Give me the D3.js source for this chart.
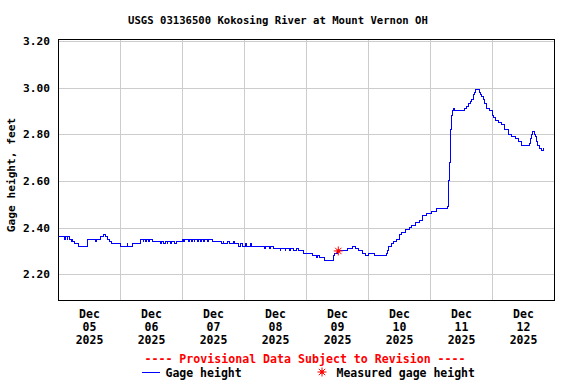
<!DOCTYPE html>
<html>
<head>
<meta charset="utf-8">
<script src="https://cdn.jsdelivr.net/npm/d3@7"></script>
<style>
  body { margin: 0; background: #fff; }
  svg { display: block; font-family: "DejaVu Sans Mono", monospace; font-weight: bold; }
</style>
</head>
<body>
<script>
// 图表数据
const title = 'USGS 03136500 Kokosing River at Mount Vernon OH';
const yLabel = 'Gage height, feet';
const yTicks = [2.20, 2.40, 2.60, 2.80, 3.00, 3.20];
const tickDays = ['2025-12-05', '2025-12-06', '2025-12-07', '2025-12-08',
    '2025-12-09', '2025-12-10', '2025-12-11', '2025-12-12'];
const measured = [['2025-12-09 12:30', 2.30]];

// 水位读数 [时间, 英尺]
const gageHeight = [
    ['2025-12-05 00:00', 2.36], ['2025-12-05 02:30', 2.35], ['2025-12-05 02:45', 2.36],
    ['2025-12-05 03:30', 2.35], ['2025-12-05 03:45', 2.36], ['2025-12-05 04:30', 2.35],
    ['2025-12-05 05:15', 2.34], ['2025-12-05 05:30', 2.35], ['2025-12-05 05:45', 2.34],
    ['2025-12-05 06:30', 2.33], ['2025-12-05 08:00', 2.32], ['2025-12-05 11:15', 2.33],
    ['2025-12-05 11:30', 2.35], ['2025-12-05 14:30', 2.34], ['2025-12-05 14:45', 2.35],
    ['2025-12-05 16:30', 2.36], ['2025-12-05 17:30', 2.37], ['2025-12-05 18:30', 2.36],
    ['2025-12-05 19:00', 2.35], ['2025-12-05 20:00', 2.34], ['2025-12-05 20:45', 2.33],
    ['2025-12-06 00:15', 2.32], ['2025-12-06 02:45', 2.33], ['2025-12-06 03:00', 2.32],
    ['2025-12-06 05:00', 2.33], ['2025-12-06 07:45', 2.34], ['2025-12-06 08:00', 2.35],
    ['2025-12-06 09:00', 2.34], ['2025-12-06 09:15', 2.35], ['2025-12-06 10:00', 2.34],
    ['2025-12-06 10:15', 2.35], ['2025-12-06 11:00', 2.34], ['2025-12-06 11:30', 2.35],
    ['2025-12-06 12:30', 2.34], ['2025-12-06 15:45', 2.33], ['2025-12-06 16:15', 2.34],
    ['2025-12-06 17:00', 2.33], ['2025-12-06 17:30', 2.34], ['2025-12-06 18:15', 2.33],
    ['2025-12-06 18:30', 2.34], ['2025-12-06 19:30', 2.33], ['2025-12-06 20:00', 2.34],
    ['2025-12-06 21:00', 2.33], ['2025-12-06 22:00', 2.34], ['2025-12-07 00:00', 2.35],
    ['2025-12-07 00:45', 2.34], ['2025-12-07 01:00', 2.35], ['2025-12-07 02:30', 2.34],
    ['2025-12-07 02:45', 2.35], ['2025-12-07 03:30', 2.34], ['2025-12-07 04:00', 2.35],
    ['2025-12-07 04:45', 2.34], ['2025-12-07 05:00', 2.35], ['2025-12-07 06:00', 2.34],
    ['2025-12-07 06:15', 2.35], ['2025-12-07 07:15', 2.34], ['2025-12-07 07:30', 2.35],
    ['2025-12-07 08:30', 2.34], ['2025-12-07 08:45', 2.35], ['2025-12-07 10:00', 2.34],
    ['2025-12-07 10:15', 2.35], ['2025-12-07 11:45', 2.34], ['2025-12-07 15:15', 2.33],
    ['2025-12-07 16:00', 2.34], ['2025-12-07 16:15', 2.33], ['2025-12-07 17:45', 2.34],
    ['2025-12-07 18:15', 2.33], ['2025-12-07 20:00', 2.34], ['2025-12-07 20:15', 2.33],
    ['2025-12-07 22:00', 2.32], ['2025-12-07 22:30', 2.33], ['2025-12-07 23:30', 2.32],
    ['2025-12-08 00:30', 2.33], ['2025-12-08 01:00', 2.32], ['2025-12-08 02:30', 2.33],
    ['2025-12-08 03:00', 2.32], ['2025-12-08 08:00', 2.31], ['2025-12-08 08:30', 2.32],
    ['2025-12-08 10:00', 2.31], ['2025-12-08 10:15', 2.32], ['2025-12-08 11:30', 2.31],
    ['2025-12-08 14:00', 2.30], ['2025-12-08 14:15', 2.31], ['2025-12-08 16:00', 2.30],
    ['2025-12-08 16:15', 2.31], ['2025-12-08 17:30', 2.30], ['2025-12-08 18:00', 2.31],
    ['2025-12-08 19:00', 2.30], ['2025-12-08 20:30', 2.31], ['2025-12-08 21:00', 2.30],
    ['2025-12-08 23:00', 2.29], ['2025-12-09 01:00', 2.29], ['2025-12-09 02:30', 2.28],
    ['2025-12-09 04:00', 2.27], ['2025-12-09 04:30', 2.28], ['2025-12-09 05:15', 2.27],
    ['2025-12-09 07:00', 2.26], ['2025-12-09 10:30', 2.28], ['2025-12-09 11:00', 2.29],
    ['2025-12-09 12:00', 2.30], ['2025-12-09 16:00', 2.31], ['2025-12-09 18:00', 2.32],
    ['2025-12-09 19:00', 2.31], ['2025-12-09 20:30', 2.30], ['2025-12-09 22:00', 2.29],
    ['2025-12-09 23:00', 2.28], ['2025-12-10 00:00', 2.29], ['2025-12-10 02:30', 2.28],
    ['2025-12-10 07:00', 2.29], ['2025-12-10 07:30', 2.30], ['2025-12-10 08:00', 2.32],
    ['2025-12-10 09:00', 2.33], ['2025-12-10 10:00', 2.34], ['2025-12-10 11:00', 2.35],
    ['2025-12-10 12:00', 2.37], ['2025-12-10 13:00', 2.38], ['2025-12-10 14:30', 2.39],
    ['2025-12-10 16:00', 2.40], ['2025-12-10 17:00', 2.41], ['2025-12-10 18:30', 2.42],
    ['2025-12-10 20:00', 2.43], ['2025-12-10 21:00', 2.45], ['2025-12-10 22:30', 2.46],
    ['2025-12-11 00:30', 2.47], ['2025-12-11 02:30', 2.48], ['2025-12-11 06:45', 2.49],
    ['2025-12-11 07:00', 2.52], ['2025-12-11 07:15', 2.60], ['2025-12-11 07:30', 2.68],
    ['2025-12-11 07:45', 2.76], ['2025-12-11 08:00', 2.82], ['2025-12-11 08:15', 2.86],
    ['2025-12-11 08:30', 2.88], ['2025-12-11 08:45', 2.90], ['2025-12-11 09:00', 2.91],
    ['2025-12-11 09:30', 2.90], ['2025-12-11 13:30', 2.91], ['2025-12-11 14:15', 2.92],
    ['2025-12-11 15:00', 2.93], ['2025-12-11 15:45', 2.94], ['2025-12-11 16:00', 2.95],
    ['2025-12-11 16:45', 2.97], ['2025-12-11 17:15', 2.98], ['2025-12-11 17:30', 2.99],
    ['2025-12-11 19:00', 2.98], ['2025-12-11 19:30', 2.97], ['2025-12-11 20:00', 2.96],
    ['2025-12-11 20:45', 2.95], ['2025-12-11 21:15', 2.93], ['2025-12-11 22:00', 2.91],
    ['2025-12-11 23:00', 2.90], ['2025-12-12 00:00', 2.88], ['2025-12-12 00:30', 2.87],
    ['2025-12-12 01:30', 2.86], ['2025-12-12 02:30', 2.85], ['2025-12-12 03:45', 2.84],
    ['2025-12-12 05:00', 2.82], ['2025-12-12 06:15', 2.80], ['2025-12-12 07:30', 2.79],
    ['2025-12-12 09:00', 2.78], ['2025-12-12 10:15', 2.77], ['2025-12-12 11:30', 2.75],
    ['2025-12-12 14:30', 2.76], ['2025-12-12 14:45', 2.78], ['2025-12-12 15:15', 2.80],
    ['2025-12-12 15:45', 2.81], ['2025-12-12 16:30', 2.80], ['2025-12-12 16:45', 2.79],
    ['2025-12-12 17:15', 2.77], ['2025-12-12 17:45', 2.75], ['2025-12-12 18:30', 2.74],
    ['2025-12-12 19:15', 2.73], ['2025-12-12 19:45', 2.74], ['2025-12-12 20:00', 2.74]
];

const width = 576, height = 384;
const margin = {top: 39, right: 22, bottom: 84, left: 58};
const parseTime = d3.timeParse('%Y-%m-%d %H:%M');
const parseDay = d3.timeParse('%Y-%m-%d');

let svg = d3.select('body').append('svg')
    .attr('width', width)
    .attr('height', height);

// 比例尺
let x = d3.scaleTime()
    .domain([parseDay('2025-12-05'), parseDay('2025-12-13')])
    .range([margin.left, width - margin.right]);
let y = d3.scaleLinear()
    .domain([2.0897, 3.2086])
    .range([height - margin.bottom, margin.top]);

let plotW = width - margin.left - margin.right,
    plotH = height - margin.top - margin.bottom;

// 网格线
let midnights = tickDays.slice(1).map(d => parseDay(d));
svg.append('g')
    .attr('transform', `translate(0,${margin.top})`)
    .call(d3.axisBottom(x).tickValues(midnights).tickSize(plotH).tickFormat(''))
    .call(g => g.select('.domain').remove())
    .call(g => g.selectAll('line').attr('stroke', '#cccccc').attr('shape-rendering', 'crispEdges'));
svg.append('g')
    .attr('transform', `translate(${margin.left},0)`)
    .call(d3.axisLeft(y).tickValues(yTicks).tickSize(-plotW).tickFormat(''))
    .call(g => g.select('.domain').remove())
    .call(g => g.selectAll('line').attr('stroke', '#cccccc').attr('shape-rendering', 'crispEdges'));

// 水位曲线
let line = d3.line()
    .x(d => x(parseTime(d[0])))
    .y(d => y(d[1]))
    .curve(d3.curveStepAfter);
svg.append('path')
    .datum(gageHeight)
    .attr('fill', 'none')
    .attr('stroke', '#0000ff')
    .attr('stroke-width', 1)
    .attr('shape-rendering', 'crispEdges')
    .attr('d', line);

// 星号符号
const drawStar = (g, r) => {
    [0, 45, 90, 135].forEach(a => {
        let rad = a * Math.PI / 180;
        g.append('line')
            .attr('x1', -r * Math.cos(rad)).attr('y1', -r * Math.sin(rad))
            .attr('x2', r * Math.cos(rad)).attr('y2', r * Math.sin(rad))
            .attr('stroke', '#ff0000').attr('stroke-width', 1);
    });
    g.append('circle').attr('r', 1.8).attr('fill', '#ff0000');
};
measured.forEach(m => {
    let g = svg.append('g')
        .attr('transform', `translate(${x(parseTime(m[0]))},${y(m[1])})`);
    drawStar(g, 4.5);
});

// 边框
svg.append('rect')
    .attr('x', margin.left + 0.5).attr('y', margin.top + 0.5)
    .attr('width', plotW).attr('height', plotH)
    .attr('fill', 'none').attr('stroke', '#000');

// Y 轴标签
svg.append('g')
    .attr('transform', `translate(${margin.left - 8},0)`)
    .call(d3.axisLeft(y).tickValues(yTicks).tickSize(0).tickPadding(0).tickFormat(d3.format('.2f')))
    .call(g => g.select('.domain').remove())
    .call(g => g.selectAll('text')
        .attr('font-family', '"DejaVu Sans Mono", monospace')
        .attr('font-weight', 'bold')
        .attr('font-size', 11.2)
        .attr('fill', '#000'));

// X 轴标签（三行）
let noons = tickDays.map(d => d3.timeHour.offset(parseDay(d), 12));
svg.append('g')
    .attr('transform', `translate(0,${height - margin.bottom})`)
    .call(d3.axisBottom(x).tickValues(noons).tickSize(0).tickFormat(''))
    .call(g => g.select('.domain').remove())
    .call(g => g.selectAll('.tick text')
        .attr('y', 0).attr('dy', null)
        .attr('font-family', '"DejaVu Sans Mono", monospace')
        .attr('font-weight', 'bold')
        .attr('font-size', 11.5)
        .attr('fill', '#000')
        .each(function (d) {
            let t = d3.select(this);
            [d3.timeFormat('%b')(d), d3.timeFormat('%d')(d), d3.timeFormat('%Y')(d)].forEach((s, i) => {
                t.append('tspan').attr('x', 0).attr('y', 18 + i * 13).text(s);
            });
        }));

// 标题
svg.append('text')
    .attr('x', 278).attr('y', 24)
    .attr('text-anchor', 'middle')
    .attr('font-size', 10.6)
    .text(title);

// Y 轴标题
svg.append('text')
    .attr('transform', 'translate(15,175) rotate(-90)')
    .attr('text-anchor', 'middle')
    .attr('font-size', 11.2)
    .text(yLabel);

// 临时数据说明
svg.append('text')
    .attr('x', 305).attr('y', 363)
    .attr('text-anchor', 'middle')
    .attr('font-size', 11.6)
    .attr('fill', '#ff0000')
    .text('---- Provisional Data Subject to Revision ----');

// 图例
svg.append('line')
    .attr('x1', 142).attr('x2', 160).attr('y1', 372.5).attr('y2', 372.5)
    .attr('stroke', '#0000ff').attr('stroke-width', 1);
svg.append('text')
    .attr('x', 165.5).attr('y', 376.5)
    .attr('font-size', 11.5)
    .text('Gage height');
drawStar(svg.append('g').attr('transform', 'translate(322,372)'), 4.5);
svg.append('text')
    .attr('x', 336.5).attr('y', 376.5)
    .attr('font-size', 11.5)
    .text('Measured gage height');
</script>
</body>
</html>
